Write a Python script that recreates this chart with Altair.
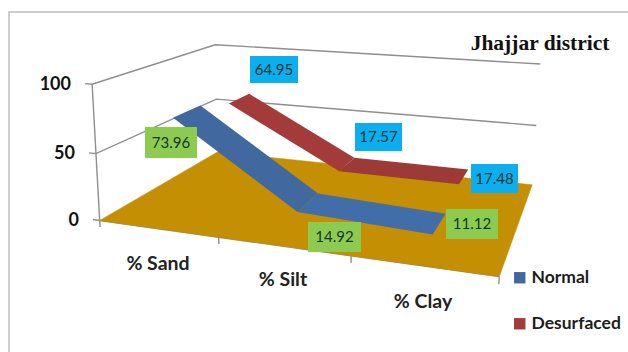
import altair as alt
import numpy as np
import pandas as pd

categories = ["% Sand", "% Silt", "% Clay"]
normal = [73.96, 14.92, 11.12]
desurfaced = [64.95, 17.57, 17.48]
value_ticks = [0, 50, 100]

NORMAL_COLOR = "#41699F"
NORMAL_FLAT = "#416EA8"
DESURFACED_COLOR = "#A23B3A"
DESURFACED_FLAT = "#9C3A38"
FLOOR_COLOR = "#C48F03"
GRID_COLOR = "#8E8E8E"
FRAME_COLOR = "#BDBDBD"
BODY_FONT = "Lato"

# Camera: box corners (across, depth, value/100) and where they land on the canvas.
anchors = [
    ((0, 0, 0), (100, 221)), ((1, 0, 0), (499, 277)),
    ((1, 1, 0), (532, 184)), ((0, 1, 0), (217, 152)),
    ((0, 0, 1), (92, 84)), ((0, 1, 1), (215, 45)),
    ((1, 1, 1), (540, 64)), ((0, 1, .5), (217, 99)),
    ((1, 1, .5), (537, 126)), ((0, 0, .5), (96, 153)),
]
rows = []
for (a, b, c), (px, py) in anchors:
    rows.append([a, b, c, 1, 0, 0, 0, 0, -px * a, -px * b, -px * c, -px])
    rows.append([0, 0, 0, 0, a, b, c, 1, -py * a, -py * b, -py * c, -py])
camera = np.linalg.svd(np.array(rows, float))[2][-1].reshape(3, 4)


def project(across, depth, value):
    h = camera @ np.array([across, depth, value / 100, 1.0])
    return h[0] / h[2], h[1] / h[2]


def polygon(name, corners, shade):
    closed = corners + corners[:1]
    return [
        {"poly": name, "shade": shade, "k": k, "x": project(*c)[0], "y": project(*c)[1]}
        for k, c in enumerate(closed)
    ]


across = [1 / 6, 1 / 2, 5 / 6]
ribbons = [
    ("Desurfaced", desurfaced, 0.62, 0.83, "Desurfaced flat"),
    ("Normal", normal, 0.14, 0.36, "Normal flat"),
]

floor_rows = polygon("floor", [(0, 0, 0), (1, 0, 0), (1, 1, 0), (0, 1, 0)], "floor")
ribbon_rows = []
for name, values, d0, d1, flat in ribbons:
    for i in range(2):
        quad = [
            (across[i], d0, values[i]), (across[i + 1], d0, values[i + 1]),
            (across[i + 1], d1, values[i + 1]), (across[i], d1, values[i]),
        ]
        ribbon_rows += polygon(f"{name}{i}", quad, name if i == 0 else flat)

grid_rows = []
for v in value_ticks:
    for k, c in enumerate([(-0.02, 0, v), (0, 0, v), (0, 1, v), (1, 1, v)]):
        if v == 0 and k > 1:
            continue
        grid_rows.append({"g": f"v{v}", "k": k, "x": project(*c)[0], "y": project(*c)[1]})
grid_rows.append({"g": "side", "k": 0, "x": project(0, 0, 0)[0], "y": project(0, 0, 0)[1]})
grid_rows.append({"g": "side", "k": 1, "x": project(0, 0, 100)[0], "y": project(0, 0, 100)[1]})
for t in [0, 1 / 3, 2 / 3, 1]:
    for k, v in enumerate([0, -5]):
        grid_rows.append({"g": f"t{t}", "k": k, "x": project(t, 0, v)[0], "y": project(t, 0, v)[1]})
for k, u in enumerate([0, 1]):
    grid_rows.append({"g": "front", "k": k, "x": project(u, 0, 0)[0], "y": project(u, 0, 0)[1]})

frame_rows = [
    {"k": 0, "x": 9, "y": 352},
    {"k": 1, "x": 9, "y": 12},
    {"k": 2, "x": 628, "y": 12},
]

# Data-label boxes: printed value, centre of the box, box size.
label_boxes = pd.DataFrame({
    "text": [f"{v:.2f}" for v in normal + desurfaced],
    "x": [171, 334.5, 472, 274, 378.5, 494.5],
    "y": [142.5, 237, 224, 69.5, 137, 178.5],
    "w": [52, 53, 52, 48, 47, 47],
    "h": [31, 30, 30, 27, 28, 29],
    "fill": ["#8CCB50"] * 3 + ["#0BAEEF"] * 3,
})
label_boxes["x0"] = label_boxes.x - label_boxes.w / 2
label_boxes["x1"] = label_boxes.x + label_boxes.w / 2
label_boxes["y0"] = label_boxes.y - label_boxes.h / 2
label_boxes["y1"] = label_boxes.y + label_boxes.h / 2

category_text = pd.DataFrame({"text": categories, "x": [158, 283, 423], "y": [264, 280, 302]})
value_text = pd.DataFrame({"text": [str(v) for v in value_ticks], "x": [79, 75, 71], "y": [221, 154, 85]})

X = alt.X("x:Q", scale=alt.Scale(domain=[0, 628], nice=False, zero=False), axis=None)
Y = alt.Y("y:Q", scale=alt.Scale(domain=[352, 0], nice=False, zero=False), axis=None)

frame = alt.Chart(pd.DataFrame(frame_rows)).mark_line(color=FRAME_COLOR, strokeWidth=1.5).encode(
    X, Y, order="k:Q"
)
grid = alt.Chart(pd.DataFrame(grid_rows)).mark_line(color=GRID_COLOR, strokeWidth=1.4).encode(
    X, Y, order="k:Q", detail="g:N"
)
floor = alt.Chart(pd.DataFrame(floor_rows)).mark_line(
    fill=FLOOR_COLOR, color=FLOOR_COLOR, strokeWidth=0.5
).encode(X, Y, order="k:Q", detail="poly:N")

shades = ["Normal", "Desurfaced", "Normal flat", "Desurfaced flat"]
shade_colors = [NORMAL_COLOR, DESURFACED_COLOR, NORMAL_FLAT, DESURFACED_FLAT]
ribbon = alt.Chart(pd.DataFrame(ribbon_rows)).mark_line(filled=True, strokeWidth=0.5).encode(
    X, Y,
    order="k:Q",
    detail="poly:N",
    fill=alt.Fill(
        "shade:N",
        scale=alt.Scale(domain=shades, range=shade_colors),
        legend=alt.Legend(
            values=["Normal", "Desurfaced"], title=None, orient="none",
            legendX=511, legendY=269, symbolType="square", symbolSize=130,
            symbolStrokeWidth=0, labelFont=BODY_FONT, labelFontWeight="bold",
            labelFontSize=17.5, labelColor="#1c1c1c", rowPadding=27, labelOffset=3,
        ),
    ),
)

boxes = alt.Chart(label_boxes).mark_rect().encode(
    x=alt.X("x0:Q", scale=alt.Scale(domain=[0, 628], nice=False, zero=False), axis=None),
    x2="x1:Q",
    y=alt.Y("y0:Q", scale=alt.Scale(domain=[352, 0], nice=False, zero=False), axis=None),
    y2="y1:Q",
    fill=alt.Fill("fill:N", scale=None),
)
box_text = alt.Chart(label_boxes).mark_text(font=BODY_FONT, fontSize=15, color="#14352f").encode(
    X, Y, text="text:N"
)
cat_labels = alt.Chart(category_text).mark_text(
    font=BODY_FONT, fontSize=19.5, fontWeight="bold", color="#222222"
).encode(X, Y, text="text:N")
val_labels = alt.Chart(value_text).mark_text(
    font=BODY_FONT, fontSize=18, fontWeight="bold", color="#111111", align="right"
).encode(X, Y, text="text:N")
title = alt.Chart(pd.DataFrame({"text": ["Jhajjar district"], "x": [540], "y": [44]})).mark_text(
    font="Liberation Serif", fontSize=21.5, fontWeight="bold", color="#111111"
).encode(X, Y, text="text:N")

chart = alt.layer(
    frame, grid, floor, ribbon, boxes, box_text, cat_labels, val_labels, title
).resolve_scale(fill="independent").properties(
    width=628, height=352, padding=0, autosize=alt.AutoSizeParams(type="none"), background="white"
).configure_view(stroke=None)

chart.save("out.html", embed_options={"renderer": "svg", "actions": False})
